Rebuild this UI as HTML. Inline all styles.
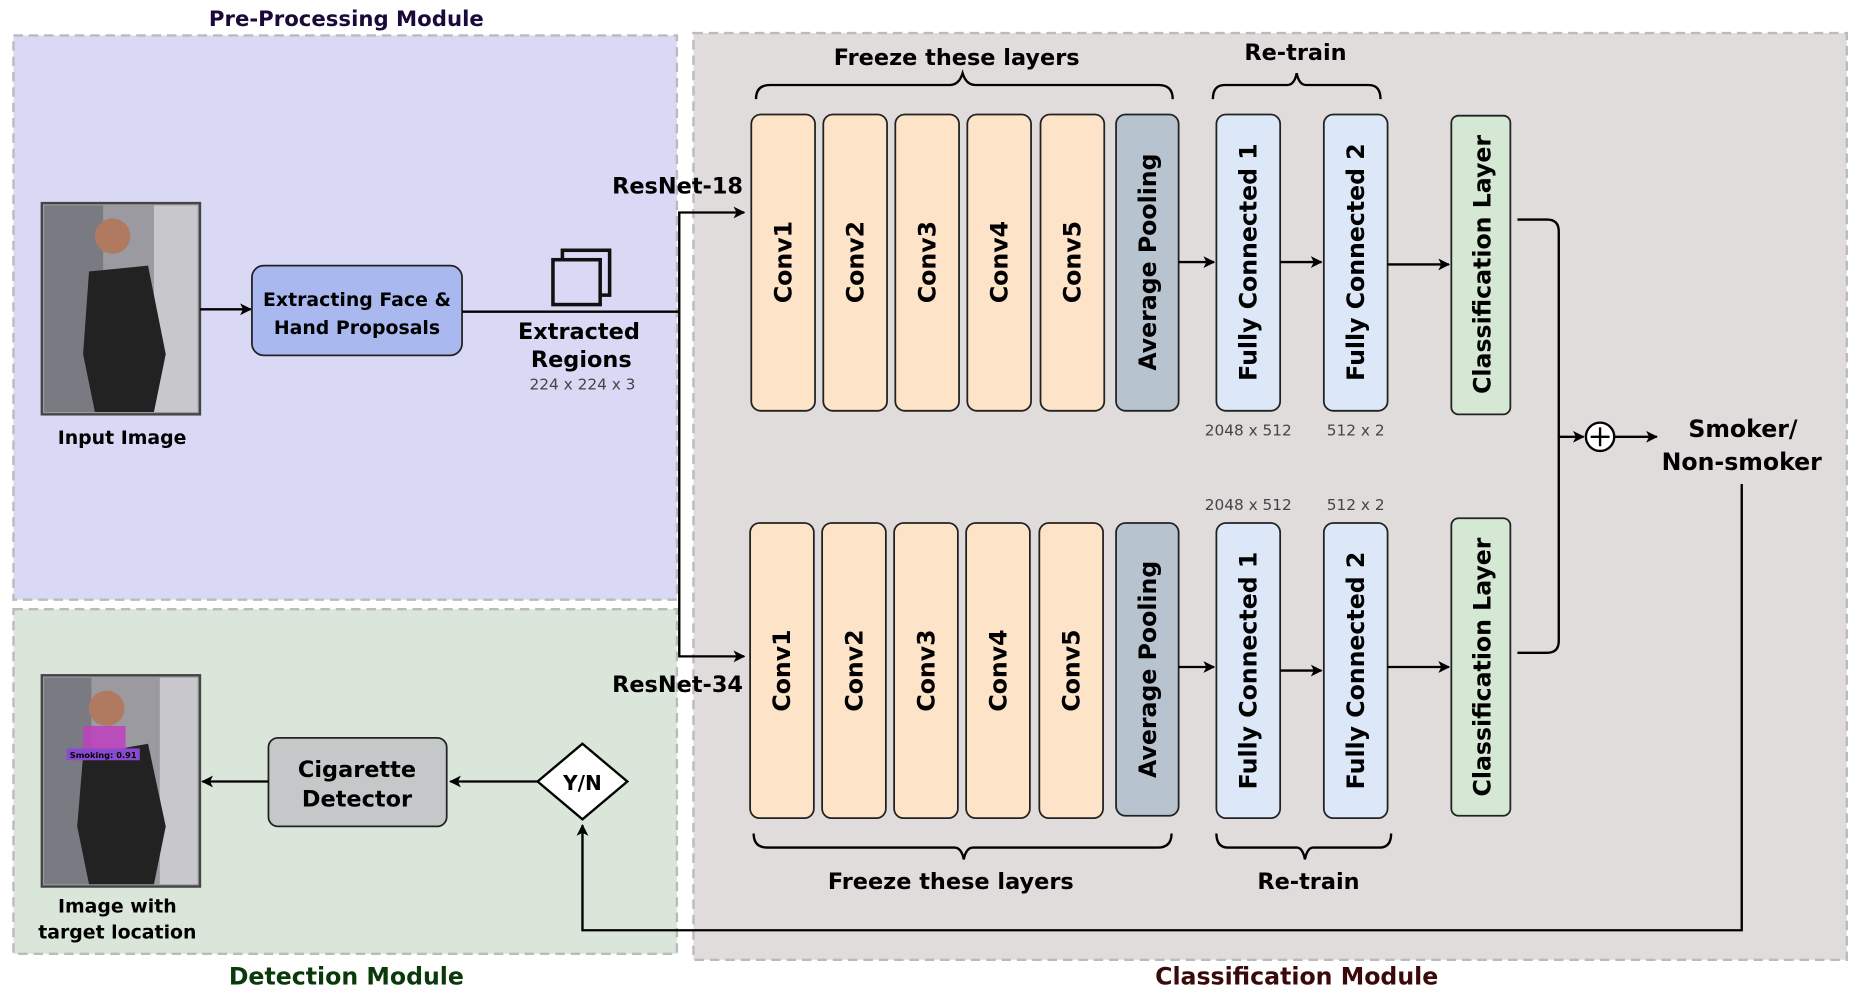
<!DOCTYPE html>
<html><head><meta charset="utf-8"><style>
html,body{margin:0;padding:0;background:#fff;}
svg{display:block;}
text{font-family:"DejaVu Sans","Liberation Sans",sans-serif;}
.b{font-weight:bold;}
</style></head><body>
<svg width="1852" height="994" viewBox="0 0 1568 842" xmlns="http://www.w3.org/2000/svg">
<defs>
<marker id="ah" markerWidth="10" markerHeight="10" refX="9" refY="5" orient="auto" markerUnits="userSpaceOnUse">
<path d="M0,0 L10,5 L0,10 L2.5,5 z" fill="#000"/></marker>
</defs>
<rect width="1568" height="842" fill="#fff"/>
<rect x="11" y="30" width="562" height="478" fill="#d9d9f5" stroke="#bbb" stroke-width="2" stroke-dasharray="8,5"/>
<rect x="11" y="516" width="562" height="292" fill="#d9e6d9" stroke="#bbb" stroke-width="2" stroke-dasharray="8,5"/>
<rect x="587" y="28" width="977" height="785" fill="#e0dcdc" stroke="#bbb" stroke-width="2" stroke-dasharray="8,5"/>
<text x="293" y="22" text-anchor="middle" class="b" font-size="18" fill="#1a0a3a">Pre-Processing Module</text>
<text x="293" y="834" text-anchor="middle" class="b" font-size="20" fill="#0a3a0a">Detection Module</text>
<text x="1098" y="834" text-anchor="middle" class="b" font-size="20" fill="#3a0a0a">Classification Module</text>

<rect x="35" y="172" width="134" height="179" fill="#9a9aa0" stroke="#444" stroke-width="2"/>
<rect x="37" y="174" width="50" height="175" fill="#7a7a82"/>
<rect x="130" y="174" width="37" height="175" fill="#c8c8cc"/>
<circle cx="95" cy="200" r="15" fill="#b07a60"/>
<path d="M75,230 L125,225 L140,300 L130,349 L80,349 L70,300 z" fill="#222"/>
<text x="103" y="376" text-anchor="middle" class="b" font-size="16">Input Image</text>
<line x1="169" y1="262" x2="212" y2="262" stroke="#000" stroke-width="2" marker-end="url(#ah)"/>
<rect x="213" y="225" width="178" height="76" rx="10" fill="#a9b9f0" stroke="#222" stroke-width="1.5"/>
<text x="302" y="259" text-anchor="middle" class="b" font-size="16">Extracting Face &amp;</text>
<text x="302" y="283" text-anchor="middle" class="b" font-size="16">Hand Proposals</text>
<line x1="391" y1="264" x2="575" y2="264" stroke="#000" stroke-width="2"/>
<rect x="476" y="212" width="40" height="38" fill="none" stroke="#111" stroke-width="3"/>
<rect x="468" y="220" width="40" height="38" fill="#d9d9f5" stroke="#111" stroke-width="3"/>
<text x="490" y="287" text-anchor="middle" class="b" font-size="19">Extracted</text>
<text x="492" y="311" text-anchor="middle" class="b" font-size="19">Regions</text>
<text x="493" y="330" text-anchor="middle" font-size="13" fill="#444">224 x 224 x 3</text>
<polyline points="575,264 575,180 630,180" fill="none" stroke="#000" stroke-width="2" marker-end="url(#ah)"/>
<polyline points="575,264 575,556 630,556" fill="none" stroke="#000" stroke-width="2" marker-end="url(#ah)"/>
<text x="629" y="164" text-anchor="end" class="b" font-size="19">ResNet-18</text>
<text x="629" y="586" text-anchor="end" class="b" font-size="19">ResNet-34</text>

<g stroke="#222" stroke-width="1.5">
<rect x="636" y="97" width="54" height="251" rx="8" fill="#fde3c8"/>
<rect x="697" y="97" width="54" height="251" rx="8" fill="#fde3c8"/>
<rect x="758" y="97" width="54" height="251" rx="8" fill="#fde3c8"/>
<rect x="819" y="97" width="54" height="251" rx="8" fill="#fde3c8"/>
<rect x="881" y="97" width="54" height="251" rx="8" fill="#fde3c8"/>
<rect x="945" y="97" width="53" height="251" rx="8" fill="#b7c4d0"/>
<rect x="1030" y="97" width="54" height="251" rx="8" fill="#dce8f8"/>
<rect x="1121" y="97" width="54" height="251" rx="8" fill="#dce8f8"/>
<rect x="1229" y="98" width="50" height="253" rx="6" fill="#d5e8d4"/>
<rect x="635" y="443" width="54" height="250" rx="8" fill="#fde3c8"/>
<rect x="696" y="443" width="54" height="250" rx="8" fill="#fde3c8"/>
<rect x="757" y="443" width="54" height="250" rx="8" fill="#fde3c8"/>
<rect x="818" y="443" width="54" height="250" rx="8" fill="#fde3c8"/>
<rect x="880" y="443" width="54" height="250" rx="8" fill="#fde3c8"/>
<rect x="945" y="443" width="53" height="248" rx="8" fill="#b7c4d0"/>
<rect x="1030" y="443" width="54" height="250" rx="8" fill="#dce8f8"/>
<rect x="1121" y="443" width="54" height="250" rx="8" fill="#dce8f8"/>
<rect x="1229" y="439" width="50" height="252" rx="6" fill="#d5e8d4"/>
</g>
<g font-size="20" text-anchor="middle" font-weight="bold">
<text transform="translate(670,222) rotate(-90)">Conv1</text>
<text transform="translate(731,222) rotate(-90)">Conv2</text>
<text transform="translate(792,222) rotate(-90)">Conv3</text>
<text transform="translate(853,222) rotate(-90)">Conv4</text>
<text transform="translate(915,222) rotate(-90)">Conv5</text>
<text transform="translate(979,222) rotate(-90)">Average Pooling</text>
<text transform="translate(1064,222) rotate(-90)">Fully Connected 1</text>
<text transform="translate(1155,222) rotate(-90)">Fully Connected 2</text>
<text transform="translate(1262,224) rotate(-90)">Classification Layer</text>
<text transform="translate(669,568) rotate(-90)">Conv1</text>
<text transform="translate(730,568) rotate(-90)">Conv2</text>
<text transform="translate(791,568) rotate(-90)">Conv3</text>
<text transform="translate(852,568) rotate(-90)">Conv4</text>
<text transform="translate(914,568) rotate(-90)">Conv5</text>
<text transform="translate(979,567) rotate(-90)">Average Pooling</text>
<text transform="translate(1064,568) rotate(-90)">Fully Connected 1</text>
<text transform="translate(1155,568) rotate(-90)">Fully Connected 2</text>
<text transform="translate(1262,565) rotate(-90)">Classification Layer</text>
</g>
<g stroke="#000" stroke-width="2">
<line x1="998" y1="222" x2="1028" y2="222" marker-end="url(#ah)"/>
<line x1="1084" y1="222" x2="1119" y2="222" marker-end="url(#ah)"/>
<line x1="1175" y1="224" x2="1227" y2="224" marker-end="url(#ah)"/>
<line x1="998" y1="565" x2="1028" y2="565" marker-end="url(#ah)"/>
<line x1="1084" y1="568" x2="1119" y2="568" marker-end="url(#ah)"/>
<line x1="1175" y1="565" x2="1227" y2="565" marker-end="url(#ah)"/>
</g>
<g fill="none" stroke="#000" stroke-width="2">
<path d="M640,84 Q640,72 652,72 L804,72 Q812,72 815,62 Q818,72 826,72 L981,72 Q993,72 993,84"/>
<path d="M1027,84 Q1027,72 1037,72 L1090,72 Q1096,72 1098,62 Q1100,72 1106,72 L1159,72 Q1169,72 1169,84"/>
<path d="M638,706 Q638,718 650,718 L808,718 Q814,718 816,728 Q818,718 824,718 L980,718 Q992,718 992,706"/>
<path d="M1030,706 Q1030,718 1040,718 L1098,718 Q1103,718 1105,728 Q1107,718 1112,718 L1168,718 Q1178,718 1178,706"/>
</g>
<text x="810" y="55" text-anchor="middle" class="b" font-size="19">Freeze these layers</text>
<text x="1097" y="51" text-anchor="middle" class="b" font-size="19">Re-train</text>
<text x="805" y="753" text-anchor="middle" class="b" font-size="19">Freeze these layers</text>
<text x="1108" y="753" text-anchor="middle" class="b" font-size="19">Re-train</text>
<g font-size="13" fill="#444" text-anchor="middle">
<text x="1057" y="369">2048 x 512</text><text x="1148" y="369">512 x 2</text>
<text x="1057" y="432">2048 x 512</text><text x="1148" y="432">512 x 2</text>
</g>
<g fill="none" stroke="#000" stroke-width="2">
<path d="M1285,186 L1310,186 Q1320,186 1320,196 L1320,543 Q1320,553 1310,553 L1285,553"/>
<line x1="1320" y1="370" x2="1341" y2="370" marker-end="url(#ah)"/>
<circle cx="1355" cy="370" r="12" fill="#fff"/>
<line x1="1355" y1="362" x2="1355" y2="378"/><line x1="1347" y1="370" x2="1363" y2="370"/>
<line x1="1367" y1="370" x2="1403" y2="370" marker-end="url(#ah)"/>
<polyline points="1475,410 1475,788 493,788 493,699" marker-end="url(#ah)"/>
</g>
<text x="1476" y="370" text-anchor="middle" class="b" font-size="20">Smoker/</text>
<text x="1475" y="398" text-anchor="middle" class="b" font-size="20">Non-smoker</text>
<polygon points="493,630 531,662 493,694 455,662" fill="#fff" stroke="#000" stroke-width="2"/>
<text x="493" y="669" text-anchor="middle" class="b" font-size="17">Y/N</text>
<line x1="455" y1="662" x2="381" y2="662" stroke="#000" stroke-width="2" marker-end="url(#ah)"/>
<rect x="227" y="625" width="151" height="75" rx="8" fill="#c4c8c8" stroke="#222" stroke-width="1.5"/>
<text x="302" y="658" text-anchor="middle" class="b" font-size="19">Cigarette</text>
<text x="302" y="683" text-anchor="middle" class="b" font-size="19">Detector</text>
<line x1="227" y1="662" x2="171" y2="662" stroke="#000" stroke-width="2" marker-end="url(#ah)"/>
<rect x="35" y="572" width="134" height="179" fill="#9a9aa0" stroke="#444" stroke-width="2"/>
<rect x="37" y="574" width="40" height="175" fill="#7a7a82"/>
<rect x="135" y="574" width="32" height="175" fill="#c8c8cc"/>
<circle cx="90" cy="600" r="15" fill="#b07a60"/>
<path d="M70,640 L125,630 L140,700 L130,749 L75,749 L65,700 z" fill="#222"/>
<rect x="70" y="615" width="36" height="20" fill="#c040c0" opacity="0.85"/>
<rect x="56" y="634" width="62" height="10" fill="#8a4ad0"/>
<text x="87" y="642" text-anchor="middle" font-size="7" class="b" fill="#000">Smoking: 0.91</text>
<text x="99" y="773" text-anchor="middle" class="b" font-size="16">Image with</text>
<text x="99" y="795" text-anchor="middle" class="b" font-size="16">target location</text>
</svg>
</body></html>
